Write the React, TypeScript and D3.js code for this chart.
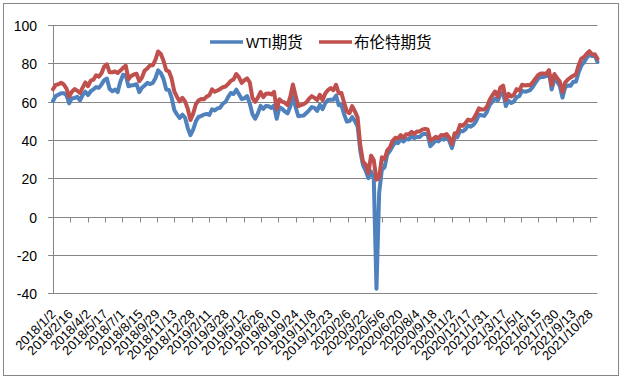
import React from "react";
import * as d3 from "d3";

// Weekly samples (every 7 days from 2018/1/2), USD/bbl
const startDate = Date.UTC(2018, 0, 2);

const wti2018 = [
  60.37, 62.96, 63.73, 64.47, 64.5, 63.39, 59.19, 61.9, 62.01, 62.6,
  60.71, 63.54, 65.25, 63.51, 65.51, 66.52, 67.7, 67.25, 69.06, 71.31,
  72.13, 66.73, 65.52, 66.36, 65.07, 70.53, 74.14, 73.8, 68.08, 68.52,
  68.76, 69.17, 65.01, 67.35, 68.53, 69.87, 69.25, 69.85, 72.28, 76.41,
  74.96, 71.92, 66.43, 66.18, 62.21, 55.69, 53.43, 51.56, 53.25, 51.65,
  46.24, 42.53,
];
const wti2019 = [
  45.41, 49.78, 52.11, 52.57, 53.31, 53.66, 53.1, 56.09, 55.5, 56.56,
  56.87, 59.03, 59.94, 62.58, 64.61, 64.05, 66.3, 63.91, 61.4, 61.78,
  62.99, 59.14, 53.48, 51.14, 53.9, 57.83, 56.25, 57.83, 57.62, 56.77,
  58.05, 51.09, 57.1, 56.34, 54.93, 53.94, 57.4, 62.9, 57.29, 52.45,
  52.63, 52.81, 54.16, 55.54, 57.23, 56.8, 55.21, 58.41, 56.1, 59.24,
  60.94, 61.11, 61.06,
];
const wti2020 = [
  63.27, 58.23, 58.38, 53.48, 49.61, 49.94, 52.05, 49.9, 47.18, 34.36,
  26.95, 24.01, 20.09, 23.63, 20.11, -37.63, 12.34, 24.56, 25.78, 32.5,
  34.35, 36.81, 38.94, 38.38, 40.37, 39.27, 40.62, 40.29, 41.96, 41.04,
  41.7, 41.61, 42.89, 43.35, 42.76, 36.76, 38.28, 39.8, 39.29, 40.67,
  40.2, 41.7, 39.57, 35.79, 41.36, 41.43, 44.91, 44.55, 45.6, 47.62,
  47.02, 48.0,
];
const wti2021 = [
  49.93, 53.21, 52.98, 52.61, 54.76, 58.36, 60.05, 61.67, 60.75, 64.01,
  64.8, 57.76, 60.55, 59.33, 60.18, 62.44, 62.94, 65.69, 65.28, 65.49,
  66.07, 67.72, 70.05, 72.12, 73.06, 72.98, 73.37, 75.25, 66.42, 71.65,
  70.56, 68.29, 62.14, 67.54, 68.5, 68.35, 70.46, 70.49, 75.29, 78.93,
  80.64, 82.96, 84.65, 83.91, 84.15, 80.76,
];

const brent2018 = [
  66.57, 68.82, 69.15, 69.96, 69.02, 66.86, 62.72, 65.25, 66.63, 65.79,
  64.64, 67.42, 70.11, 68.12, 71.04, 71.58, 73.86, 73.13, 74.85, 78.43,
  79.57, 75.39, 75.38, 75.88, 75.08, 76.31, 77.76, 78.86, 71.84, 73.44,
  74.25, 74.65, 70.76, 72.63, 76.31, 77.37, 79.06, 79.03, 81.87, 86.29,
  85.0, 81.41, 76.44, 75.91, 72.13, 65.47, 62.53, 60.21, 62.08, 60.2,
  56.26, 50.47,
];
const brent2019 = [
  53.8, 58.72, 60.64, 61.5, 61.32, 62.69, 63.42, 66.45, 65.21, 65.86,
  66.67, 67.61, 67.97, 69.37, 71.02, 71.72, 74.51, 72.8, 69.88, 71.24,
  72.18, 70.11, 61.97, 59.97, 62.14, 65.05, 62.4, 64.16, 64.35, 63.83,
  65.17, 56.23, 61.3, 60.03, 59.51, 58.26, 62.38, 69.02, 63.1, 57.71,
  58.24, 58.74, 59.7, 61.59, 62.96, 62.06, 60.91, 63.68, 60.82, 64.34,
  66.1, 67.2, 66.0,
];
const brent2020 = [
  68.91, 64.49, 64.59, 59.51, 54.96, 54.01, 57.75, 54.95, 51.86, 37.22,
  28.73, 27.15, 22.74, 31.87, 29.6, 19.33, 20.46, 30.97, 29.98, 34.65,
  36.17, 39.57, 41.18, 40.96, 42.63, 41.15, 43.08, 42.9, 44.32, 43.22,
  44.43, 44.5, 45.46, 45.86, 45.58, 39.78, 40.53, 41.72, 40.95, 42.65,
  42.45, 43.16, 41.2, 37.94, 43.61, 43.75, 47.86, 47.42, 48.84, 50.76,
  50.08, 51.09,
];
const brent2021 = [
  53.6, 56.58, 55.9, 55.91, 57.46, 61.09, 63.35, 65.37, 62.7, 67.52,
  68.39, 60.79, 64.14, 62.74, 63.67, 66.57, 65.86, 68.88, 68.55, 68.71,
  68.65, 70.25, 72.22, 73.99, 74.81, 74.76, 74.53, 76.49, 68.62, 74.5,
  72.41, 70.63, 65.18, 70.05, 71.63, 72.69, 73.6, 74.36, 79.09, 82.56,
  83.42, 85.08, 86.4, 84.72, 84.78, 82.43,
];

const xTickLabels = [
  "2018/1/2", "2018/2/16", "2018/4/2", "2018/5/17", "2018/7/1", "2018/8/15",
  "2018/9/29", "2018/11/13", "2018/12/28", "2019/2/11", "2019/3/28", "2019/5/12",
  "2019/6/26", "2019/8/10", "2019/9/24", "2019/11/8", "2019/12/23", "2020/2/6",
  "2020/3/22", "2020/5/6", "2020/6/20", "2020/8/4", "2020/9/18", "2020/11/2",
  "2020/12/17", "2021/1/31", "2021/3/17", "2021/5/1", "2021/6/15", "2021/7/30",
  "2021/9/13", "2021/10/28",
];
const yTicks = [-40, -20, 0, 20, 40, 60, 80, 100];
const seriesNames = ["WTI期货", "布伦特期货"];
const seriesColors = ["#4F81BD", "#C0504D"];

const wti = [...wti2018, ...wti2019, ...wti2020, ...wti2021];
const brent = [...brent2018, ...brent2019, ...brent2020, ...brent2021];
const DAY = 86400000;
const toPoints = (vals: number[]) =>
  vals.map((v, i) => ({ date: new Date(startDate + i * 7 * DAY), v }));

const parseLabel = (s: string) => {
  const [yy, mm, dd] = s.split("/").map(Number);
  return new Date(Date.UTC(yy, mm - 1, dd));
};

export default function App() {
  const W = 622, H = 381;
  const left = 53, right = 597.5;
  const x = d3
    .scaleUtc()
    .domain([new Date(startDate), new Date(startDate + (wti.length - 1) * 7 * DAY)])
    .range([left, right]);
  const y = d3.scaleLinear().domain([-40, 100]).range([293.2, 25.2]);
  const line = d3
    .line<{ date: Date; v: number }>()
    .x((d) => x(d.date))
    .y((d) => y(d.v));
  const grid = "#868686";
  const y0 = Math.round(y(0)) + 0.5;
  const latin = "'Liberation Sans', Arial, sans-serif";
  const cjk = "'Noto Sans CJK SC', sans-serif";

  return (
    <svg
      width={W}
      height={H}
      style={{ position: "absolute", left: 0, top: 0, background: "#fff" }}
    >
      <rect x={3.5} y={3.5} width={615} height={372} fill="#fff" stroke={grid} strokeWidth={1} />
      {yTicks.map((t) => {
        const yy = Math.round(y(t)) + 0.5;
        return (
          <g key={t}>
            {t !== 0 && (
              <line x1={left} x2={right} y1={yy} y2={yy} stroke={grid} strokeWidth={1} />
            )}
            <line x1={left - 5} x2={left} y1={yy} y2={yy} stroke={grid} strokeWidth={1} />
            <text
              x={37}
              y={yy + 5}
              textAnchor="end"
              fontFamily={latin}
              fontSize={14}
              fill="#000"
            >
              {t}
            </text>
          </g>
        );
      })}
      <line x1={left + 0.5} x2={left + 0.5} y1={Math.round(y(100)) + 0.5} y2={Math.round(y(-40)) + 0.5} stroke={grid} />
      <line x1={left} x2={right} y1={y0} y2={y0} stroke={grid} />
      {xTickLabels.map((s) => {
        const xx = Math.round(x(parseLabel(s))) + 0.5;
        return (
          <g key={s}>
            <line x1={xx} x2={xx} y1={y0} y2={y0 + 5} stroke={grid} />
            <text
              transform={`translate(${xx + 3},${315}) rotate(-45)`}
              textAnchor="end"
              fontFamily={latin}
              fontSize={13}
              fill="#000"
            >
              {s}
            </text>
          </g>
        );
      })}
      {[wti, brent].map((vals, i) => (
        <path
          key={i}
          d={line(toPoints(vals)) || ""}
          fill="none"
          stroke={seriesColors[i]}
          strokeWidth={4}
          strokeLinejoin="round"
          strokeLinecap="round"
        />
      ))}
      {/* legend */}
      {[
        { x1: 210, x2: 243, tx: 246 },
        { x1: 319, x2: 352, tx: 354 },
      ].map((p, i) => (
        <g key={i}>
          <line x1={p.x1} x2={p.x2} y1={42} y2={42} stroke={seriesColors[i]} strokeWidth={3.5} />
          <text x={p.tx} y={47.5} fontSize={15.5} fill="#000">
            {i === 0 ? (
              <>
                <tspan fontFamily={latin} fontSize={14}>WTI</tspan>
                <tspan fontFamily={cjk}>期货</tspan>
              </>
            ) : (
              <tspan fontFamily={cjk}>{seriesNames[1]}</tspan>
            )}
          </text>
        </g>
      ))}
    </svg>
  );
}
